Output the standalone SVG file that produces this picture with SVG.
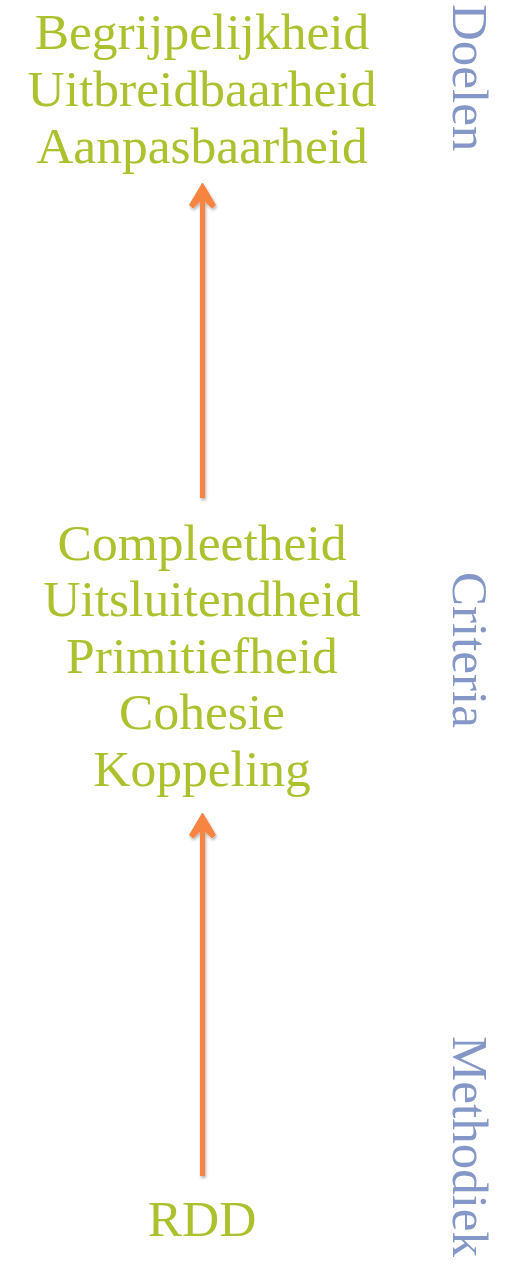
<svg xmlns="http://www.w3.org/2000/svg" width="521" height="1265" viewBox="0 0 521 1265">
  <defs>
    <style>
      .term { font-family: "Liberation Serif", "DejaVu Serif", serif; font-size: 51.5px; fill: #adc02d; text-anchor: middle; }
      .level { font-family: "Liberation Serif", "DejaVu Serif", serif; font-size: 51px; fill: #8597c6; }
      .shaft { stroke: #f7843f; stroke-width: 5; fill: none; }
      .head { fill: #f7843f; stroke: #f7843f; stroke-width: 1; stroke-linejoin: round; }
    </style>
    <filter id="soft-shadow" x="-50%" y="-5%" width="200%" height="110%">
      <feDropShadow dx="1" dy="2" stdDeviation="1.5" flood-color="#000" flood-opacity="0.3"/>
    </filter>
  </defs>
  <rect width="521" height="1265" fill="#ffffff"/>

  <!-- goals -->
  <g id="doelen">
    <text class="term" x="202" y="49">Begrijpelijkheid</text>
    <text class="term" x="202" y="106">Uitbreidbaarheid</text>
    <text class="term" x="202" y="162.5">Aanpasbaarheid</text>
  </g>

  <!-- criteria -->
  <g id="criteria">
    <text class="term" x="202" y="559.5">Compleetheid</text>
    <text class="term" x="202" y="616">Uitsluitendheid</text>
    <text class="term" x="202" y="672.5">Primitiefheid</text>
    <text class="term" x="202" y="729">Cohesie</text>
    <text class="term" x="202" y="786">Koppeling</text>
  </g>

  <!-- method -->
  <g id="methodiek">
    <text class="term" x="202" y="1236">RDD</text>
  </g>

  <!-- level labels along the right edge -->
  <g id="level-labels">
    <text class="level" transform="translate(453,4) rotate(90)">Doelen</text>
    <text class="level" transform="translate(453,572) rotate(90)">Criteria</text>
    <text class="level" transform="translate(453,1036) rotate(90)">Methodiek</text>
  </g>

  <!-- connectors -->
  <g id="connectors" filter="url(#soft-shadow)">
    <g id="criteria-to-doelen">
      <line class="shaft" x1="202.5" y1="498" x2="202.5" y2="195"/>
      <path class="head" d="M202.5 183 L215.5 205 L212 208 L202.5 199 L193 208 L189.5 205 Z"/>
    </g>
    <g id="rdd-to-criteria">
      <line class="shaft" x1="202.5" y1="1176" x2="202.5" y2="825"/>
      <path class="head" d="M202.5 813 L215.5 835 L212 838 L202.5 829 L193 838 L189.5 835 Z"/>
    </g>
  </g>
</svg>
